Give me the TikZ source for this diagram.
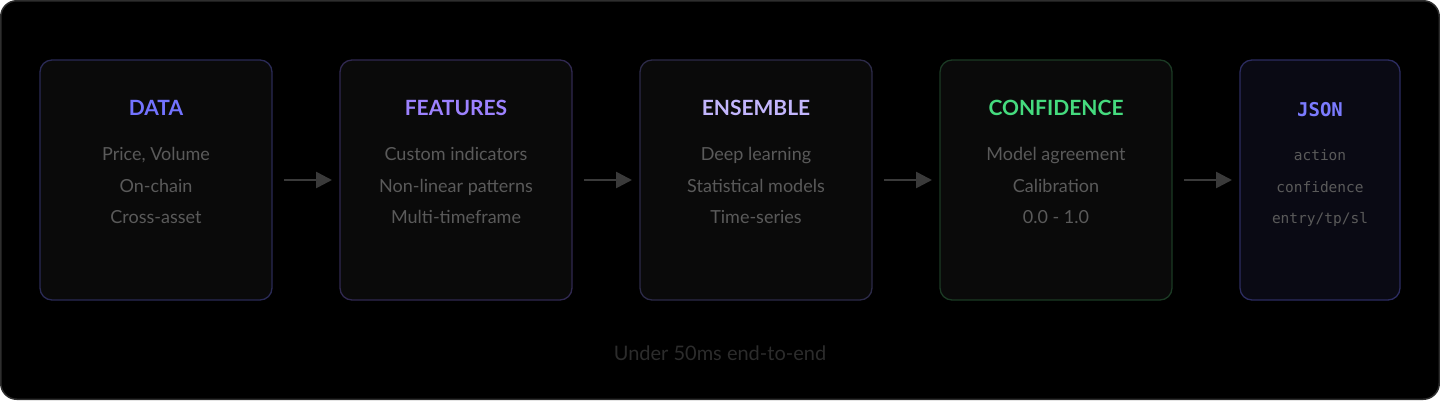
\documentclass[tikz,border=0pt]{standalone}
\usepackage{fontspec}
\setmainfont{Lato}
\setmonofont{DejaVu Sans Mono}
\usetikzlibrary{arrows.meta}
\definecolor{bgout}{HTML}{FFFFFF}
\definecolor{panel}{HTML}{000000}
\definecolor{panelborder}{HTML}{2E2E2E}
\definecolor{boxfill}{HTML}{0A0A0A}
\definecolor{jsonfill}{HTML}{0A0A14}
\definecolor{bdata}{HTML}{2A2A55}
\definecolor{bfeat}{HTML}{302850}
\definecolor{bens}{HTML}{2C2A48}
\definecolor{bconf}{HTML}{1B3A24}
\definecolor{bjson}{HTML}{2C2C60}
\definecolor{tdata}{HTML}{7373FF}
\definecolor{tfeat}{HTML}{9D82FF}
\definecolor{tens}{HTML}{C3B6FD}
\definecolor{tconf}{HTML}{45DB7E}
\definecolor{tjson}{HTML}{7B7BFF}
\definecolor{body}{HTML}{5A5A5A}
\definecolor{arrowc}{HTML}{3A3A3A}
\definecolor{foot}{HTML}{2C2C2C}
\tikzset{
  stagebox/.style={draw, line width=1.3pt, rounded corners=12pt, fill=boxfill},
  titletext/.style={font=\fontsize{21}{24}\selectfont\bfseries, anchor=center, text height=15pt, text depth=0pt, inner sep=0pt},
  bodytext/.style={font=\fontsize{18}{20}\selectfont, text=body, anchor=center, text height=13pt, text depth=0pt, inner sep=0pt},
  monotext/.style={font=\ttfamily\fontsize{14.5}{16}\selectfont, text=body, anchor=center, text height=11pt, text depth=0pt, inner sep=0pt},
  flow/.style={draw=arrowc, line width=2.6pt, -{Triangle[length=16pt,width=16pt]}},
}
\begin{document}
\begin{tikzpicture}[x=1pt,y=-1pt]
\useasboundingbox (0,0) rectangle (1440,400);
\fill[bgout] (0,0) rectangle (1440,400);
\draw[panelborder, fill=panel, line width=1.5pt, rounded corners=16pt] (0.75,0.75) rectangle (1439.25,399.25);
% boxes
\node[stagebox, draw=bdata, minimum width=232pt, minimum height=240pt] (data) at (156,180) {};
\node[stagebox, draw=bfeat, minimum width=232pt, minimum height=240pt] (feat) at (456,180) {};
\node[stagebox, draw=bens, minimum width=232pt, minimum height=240pt] (ens) at (756,180) {};
\node[stagebox, draw=bconf, minimum width=232pt, minimum height=240pt] (conf) at (1056,180) {};
\node[stagebox, draw=bjson, fill=jsonfill, minimum width=160pt, minimum height=240pt] (json) at (1320,180) {};
% titles (cap centre)
\node[titletext, text=tdata] (dataT) at (156,108) {DATA};
\node[titletext, text=tfeat] (featT) at (456,108) {FEATURES};
\node[titletext, text=tens] (ensT) at (756,108) {ENSEMBLE};
\node[titletext, text=tconf] (confT) at (1056,108) {CONFIDENCE};
\node[titletext, text=tjson, font=\ttfamily\fontsize{19}{22}\selectfont\bfseries, text height=14pt] (jsonT) at (1320,109) {JSON};
% body
\node[bodytext] (d1) at (156,154) {Price, Volume};
\node[bodytext] (d2) at (156,186) {On-chain};
\node[bodytext] (d3) at (156,217) {Cross-asset};
\node[bodytext] (f1) at (456,154) {Custom indicators};
\node[bodytext] (f2) at (456,186) {Non-linear patterns};
\node[bodytext] (f3) at (456,217) {Multi-timeframe};
\node[bodytext] (e1) at (756,154) {Deep learning};
\node[bodytext] (e2) at (756,186) {Statistical models};
\node[bodytext] (e3) at (756,217) {Time-series};
\node[bodytext] (c1) at (1056,154) {Model agreement};
\node[bodytext] (c2) at (1056,186) {Calibration};
\node[bodytext] (c3) at (1056,217) {0.0 - 1.0};
\node[monotext] (j1) at (1320,155) {action};
\node[monotext] (j2) at (1320,187) {confidence};
\node[monotext] (j3) at (1320,218) {entry/tp/sl};
% arrows
\coordinate (a1s) at (284,180); \coordinate (a1e) at (332,180);
\coordinate (a2s) at (584,180); \coordinate (a2e) at (632,180);
\coordinate (a3s) at (884,180); \coordinate (a3e) at (932,180);
\coordinate (a4s) at (1184,180); \coordinate (a4e) at (1232,180);
\draw[flow] (a1s) -- (a1e);
\draw[flow] (a2s) -- (a2e);
\draw[flow] (a3s) -- (a3e);
\draw[flow] (a4s) -- (a4e);
% footer
\node[font=\fontsize{20}{22}\selectfont, text=foot, text height=14pt, text depth=0pt, inner sep=0pt] (footer) at (720,353) {Under 50ms end-to-end};
\end{tikzpicture}
\end{document}
